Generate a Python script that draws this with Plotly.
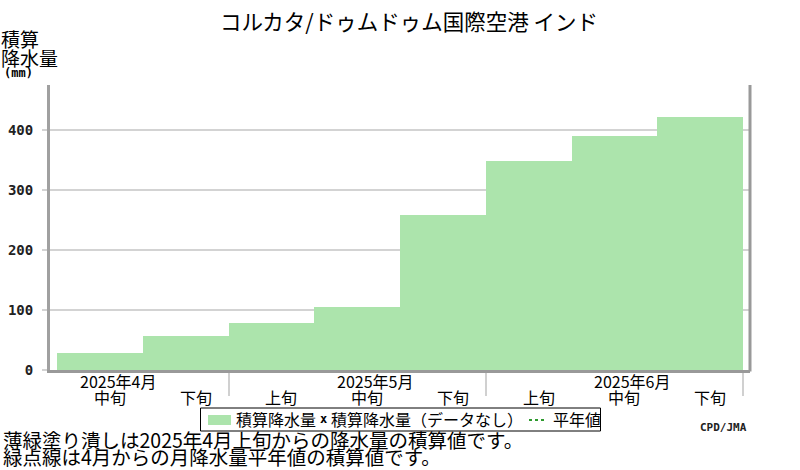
import plotly.graph_objects as go

# ---- data ----
dekad_labels = ["中旬", "下旬", "上旬", "中旬", "下旬", "上旬", "中旬", "下旬"]
month_labels = ["2025年4月", "2025年5月", "2025年6月"]
month_first_dekad = [0, 2, 5]          # index of first plotted dekad of each month
month_label_dekad = [0, 3, 6]          # dekad under which the month name sits (中旬)
cum_precip = [29, 57, 78, 105, 258, 348, 390, 422]   # mm, cumulative
y_ticks = [0, 100, 200, 300, 400]

title = "コルカタ/ドゥムドゥム国際空港 インド"
note1 = "薄緑塗り潰しは2025年4月上旬からの降水量の積算値です。"
note2 = "緑点線は4月からの月降水量平年値の積算値です。"
legend_names = ["積算降水量", "積算降水量（データなし）", "平年値"]

JP = "Noto Sans CJK JP"
MONO = "DejaVu Sans Mono"
BAR_COLOR = "#ace4ac"
NORMAL_COLOR = "#2e9a2e"

W, H = 800, 470
L, R, T, B = 50, 50, 85, 100
PW, PH = W - L - R, H - T - B

def px(xpix):
    return (xpix - L) / PW

def py(ypix):
    return (H - B - ypix) / PH

n = len(cum_precip)
x_centers = [i + 1.5 for i in range(n)]
pad = 7 / 85.75

fig = go.Figure()
fig.add_trace(go.Bar(
    x=x_centers, y=cum_precip, width=1.0,
    marker=dict(color=BAR_COLOR, line=dict(width=0)),
    name=legend_names[0], showlegend=False, hoverinfo="y",
))
# normal-value line: no data available for this station
fig.add_trace(go.Scatter(
    x=[None], y=[None], mode="lines",
    line=dict(color=NORMAL_COLOR, width=2, dash="dot"),
    name=legend_names[2], showlegend=False,
))

annotations = []
# dekad labels
for i, lab in enumerate(dekad_labels):
    annotations.append(dict(
        x=x_centers[i] + 0.117, y=py(397), xref="x", yref="paper", text=lab,
        showarrow=False, font=dict(family=JP, size=16, color="black"),
        xanchor="center", yanchor="middle",
    ))
# month labels
for lab, di in zip(month_labels, month_label_dekad):
    annotations.append(dict(
        x=x_centers[di] + 0.21, y=py(381), xref="x", yref="paper", text=lab,
        showarrow=False, font=dict(family=JP, size=16, color="black"),
        xanchor="center", yanchor="middle",
    ))

def txt(x, y, text, font, xanchor="left"):
    return dict(x=px(x), y=py(y), xref="paper", yref="paper", text=text,
                showarrow=False, font=font, xanchor=xanchor, yanchor="middle")

jp16 = dict(family=JP, size=16, color="black")
annotations += [
    txt(-1, 39, "積算", dict(family=JP, size=19, color="black")),
    txt(-1, 58, "降水量", dict(family=JP, size=19, color="black")),
    txt(2, 73, "(mm)", dict(family=MONO, size=12, color="black", weight="bold")),
    txt(1, 439, note1, dict(family=JP, size=19.5, color="black")),
    txt(1, 456, note2, dict(family=JP, size=19.5, color="black")),
    txt(749, 427, "CPD/JMA", dict(family=MONO, size=11, color="#222", weight="bold"),
        xanchor="right"),
    # legend texts
    txt(234, 419, legend_names[0], jp16),
    txt(318, 419, "x", dict(family=MONO, size=12, color="black", weight="bold")),
    txt(329, 419, legend_names[1], jp16),
    txt(551, 419, legend_names[2], jp16),
]

shapes = [
    # right frame line
    dict(type="line", xref="paper", yref="paper", x0=1, x1=1, y0=-0.005, y1=1,
         line=dict(color="#999999", width=3)),
    # legend box
    dict(type="rect", xref="paper", yref="paper", x0=px(200.5), x1=px(600.5),
         y0=py(408), y1=py(431), line=dict(color="black", width=1), fillcolor="white",
         layer="below"),
    # legend swatch
    dict(type="rect", xref="paper", yref="paper", x0=px(208), x1=px(231),
         y0=py(415), y1=py(425), line=dict(width=0), fillcolor=BAR_COLOR),
    # legend dotted line
    dict(type="line", xref="paper", yref="paper", x0=px(529), x1=px(546),
         y0=py(420), y1=py(420), line=dict(color=NORMAL_COLOR, width=2, dash="dot")),
]

fig.update_layout(
    width=W, height=H,
    margin=dict(l=L, r=R, t=T, b=B, autoexpand=False),
    paper_bgcolor="white", plot_bgcolor="white",
    title=dict(text=title, x=409 / W, xanchor="center", y=1 - 22 / H, yanchor="middle",
               font=dict(family=JP, size=21.5, color="black")),
    bargap=0,
    showlegend=False,
    annotations=annotations,
    shapes=shapes,
)
fig.update_xaxes(
    range=[1 - pad, n + 1 + pad], showgrid=False, zeroline=False,
    tickvals=[x_centers[i] - 0.5 for i in month_first_dekad[1:]] + [n + 1],
    ticktext=["", "", ""], ticks="outside", ticklen=23, tickcolor="#d0d0d0", tickwidth=2,
    showline=True, linecolor="#999999", linewidth=3, fixedrange=True, automargin=False,
)
fig.update_yaxes(
    range=[0, 475], tickvals=y_ticks, ticktext=[str(v) for v in y_ticks],
    showgrid=True, gridcolor="#d3d3d3", gridwidth=2, zeroline=False,
    ticks="outside", ticklen=5, tickcolor="#d3d3d3", tickwidth=2,
    tickfont=dict(family=MONO, size=14, color="#222", weight="bold"),
    showline=True, linecolor="#a0a0a0", linewidth=3, fixedrange=True, automargin=False,
    ticklabelstandoff=6,
)

fig.write_html(
    "out.html",
    config={"displayModeBar": False},
    post_script="document.body.style.margin='0';document.body.style.overflow='hidden';",
)
